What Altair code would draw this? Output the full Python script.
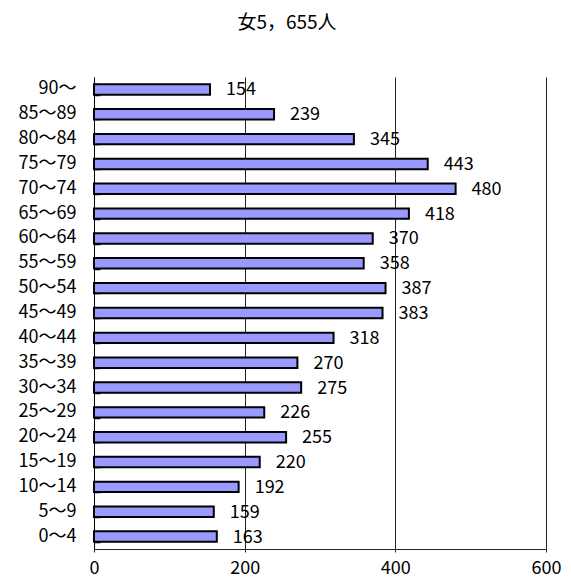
import altair as alt
import pandas as pd

ages = ["90～", "85～89", "80～84", "75～79", "70～74", "65～69", "60～64", "55～59",
        "50～54", "45～49", "40～44", "35～39", "30～34", "25～29", "20～24", "15～19",
        "10～14", "5～9", "0～4"]
counts = [154, 239, 345, 443, 480, 418, 370, 358, 387, 383, 318, 270, 275, 226, 255,
          220, 192, 159, 163]
title_text = "女5，655人"
x_ticks = [0, 200, 400, 600]

df = pd.DataFrame({"age": ages, "count": counts})
FONT = "Noto Sans CJK JP"

yscale = alt.Scale(domain=ages, paddingInner=0.58, paddingOuter=0.29)
xscale = alt.Scale(domain=[0, 600], nice=False)

bars = alt.Chart(df).mark_bar(
    color="#9999FF", stroke="black", strokeWidth=2
).encode(
    x=alt.X("count:Q", scale=xscale, title=None,
            axis=alt.Axis(values=x_ticks, grid=True, gridColor="#222", gridOpacity=1,
                          domainColor="#222", tickColor="#222", tickSize=3,
                          labelFlush=False,
                          labelFont=FONT, labelFontSize=18, labelColor="black",
                          labelPadding=7)),
    y=alt.Y("age:N", scale=yscale, sort=ages, title=None,
            axis=alt.Axis(ticks=False, domainColor="black", labelFont=FONT,
                          labelFontSize=18, labelColor="black", labelPadding=18)),
)

labels = alt.Chart(df).mark_text(
    align="left", baseline="middle", dx=16, dy=1, font=FONT, fontSize=18, color="black"
).encode(
    x=alt.X("count:Q", scale=xscale),
    y=alt.Y("age:N", scale=yscale, sort=ages, title=None,
            axis=alt.Axis(orient="right", offset=-452, labels=False, domain=False,
                          ticks=True, tickBand="extent", tickSize=6, tickWidth=1.5,
                          tickColor="black")),
    text="count:Q",
)

chart = alt.layer(bars, labels).resolve_axis(y="independent").properties(
    width=452, height=472,
    title=alt.TitleParams(title_text, font=FONT, fontSize=19, fontWeight="normal",
                          anchor="middle", dx=-33, offset=44, color="black"),
    autosize=alt.AutoSizeParams(type="none"),
    padding={"left": 86, "top": 69, "right": 17, "bottom": 32},
).configure_view(stroke=None)

chart.save("out.html", embed_options={"renderer": "svg", "actions": False})
